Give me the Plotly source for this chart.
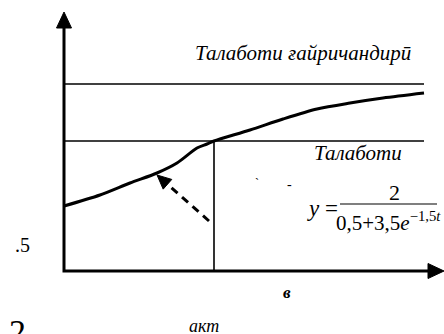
import plotly.graph_objects as go

# data units = pixels measured from the axes corner
curve_x = [0, 36, 66, 93, 113, 133, 143, 150, 186, 219, 253, 286, 319, 360]
curve_y = [65, 76, 88, 98, 108, 123, 127, 130, 141, 152, 162, 168, 173, 178]

level_high = 187      # "Талаботи ғайричандирӣ"
level_low = 130       # "Талаботи"
level_end = 360
t_mark = 150          # vertical line under the crossing point

axis_x_end = 380
axis_y_end = 259

dash_from = (145, 50)
dash_to = (93, 96)

labels = ["<i>Талаботи ғайричандирӣ</i>", "<i>Талаботи</i>", "<b><i>в</i></b>", "<i>акт</i>", ".5", "2"]
label_x = [239, 294, 223, 140, -42, -47]
label_y = [218, 118, -21, -55, 26, -60]
label_size = [21, 21, 17, 18, 20, 34]

BLACK = "black"
SERIF = "'Liberation Serif', 'Times New Roman', Times, serif"


def head(tip, tail, length, width):
    """Filled triangle pointing from tail to tip."""
    dx, dy = tip[0] - tail[0], tip[1] - tail[1]
    n = (dx * dx + dy * dy) ** 0.5
    ux, uy = dx / n, dy / n
    bx, by = tip[0] - ux * length, tip[1] - uy * length
    px, py = -uy * width / 2, ux * width / 2
    return ([tip[0], bx + px, bx - px, tip[0]], [tip[1], by + py, by - py, tip[1]]), (bx, by)


fig = go.Figure()

line = dict(color=BLACK, width=3)

# axes
fig.add_trace(go.Scatter(x=[0, 0, axis_x_end - 14], y=[axis_y_end - 14, 0, 0], mode="lines", line=line))
for tip, tail in [((0, axis_y_end), (0, 0)), ((axis_x_end, 0), (0, 0))]:
    (hx, hy), _ = head(tip, tail, 16, 15)
    fig.add_trace(go.Scatter(x=hx, y=hy, mode="lines", fill="toself", fillcolor=BLACK, line=dict(color=BLACK, width=1)))

# levels and marker line
thin = dict(color=BLACK, width=1.6)
fig.add_trace(go.Scatter(x=[0, level_end], y=[level_high, level_high], mode="lines", line=thin))
fig.add_trace(go.Scatter(x=[0, level_end], y=[level_low, level_low], mode="lines", line=thin))
fig.add_trace(go.Scatter(x=[t_mark, t_mark], y=[0, level_low], mode="lines", line=thin))

# curve
fig.add_trace(go.Scatter(x=curve_x, y=curve_y, mode="lines", line=dict(color=BLACK, width=3, shape="spline", smoothing=0.8)))

# dashed arrow
(hx, hy), base = head(dash_to, dash_from, 14, 13)
fig.add_trace(go.Scatter(x=[dash_from[0], base[0]], y=[dash_from[1], base[1]], mode="lines",
                         line=dict(color=BLACK, width=3, dash="8px,6px")))
fig.add_trace(go.Scatter(x=hx, y=hy, mode="lines", fill="toself", fillcolor=BLACK, line=dict(color=BLACK, width=1)))

for text, x, y, s in zip(labels, label_x, label_y, label_size):
    fig.add_annotation(x=x, y=y, text=text, showarrow=False, font=dict(family=SERIF, size=s, color=BLACK))

# formula y = 2 / (0,5 + 3,5e^-1,5t)
fig.add_annotation(x=258, y=63, text="<i>y</i> =", showarrow=False, font=dict(family=SERIF, size=23, color=BLACK))
fig.add_annotation(x=330, y=79, text="2", showarrow=False, font=dict(family=SERIF, size=22, color=BLACK))
fig.add_annotation(x=324, y=50, text="0,5+3,5<i>e</i><sup>−1,5<i>t</i></sup>", showarrow=False,
                   font=dict(family=SERIF, size=21, color=BLACK))
fig.add_shape(type="line", x0=276, x1=373, y0=67, y1=67, line=dict(color=BLACK, width=1.2))

# tiny stray marks
fig.add_annotation(x=193, y=88, text="`", showarrow=False, font=dict(family=SERIF, size=12, color=BLACK))
fig.add_annotation(x=225, y=87, text="-", showarrow=False, font=dict(family=SERIF, size=14, color=BLACK))

fig.update_layout(
    width=444,
    height=334,
    margin=dict(l=0, r=0, t=0, b=0),
    paper_bgcolor="white",
    plot_bgcolor="white",
    showlegend=False,
    xaxis=dict(range=[-64, 380], visible=False, fixedrange=True),
    yaxis=dict(range=[-63, 271], visible=False, fixedrange=True),
)

fig.write_html("out.html", config={"displayModeBar": False},
               post_script="document.body.style.margin='0';document.body.style.overflow='hidden';")
